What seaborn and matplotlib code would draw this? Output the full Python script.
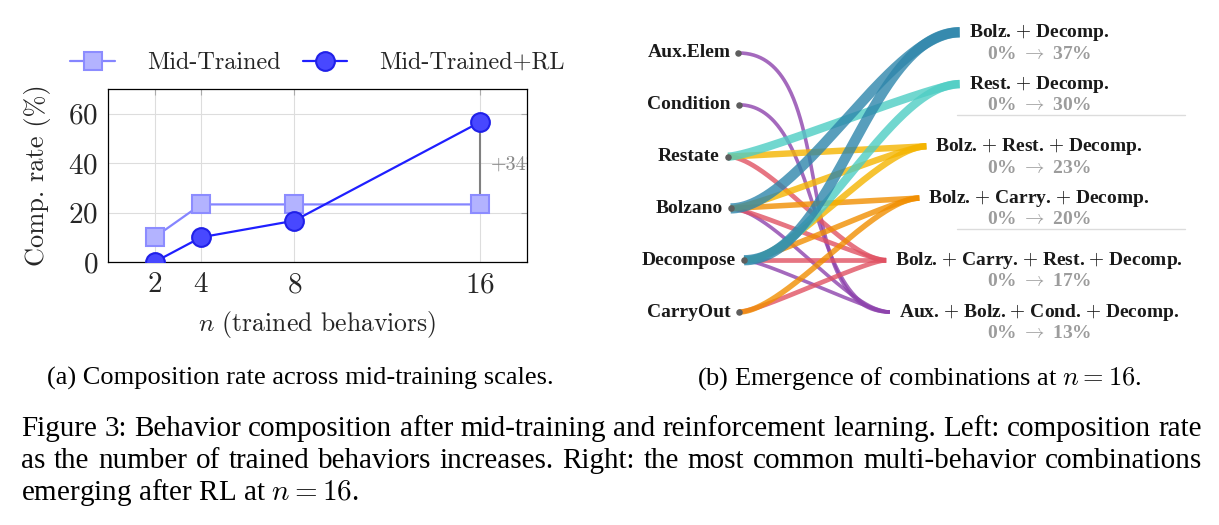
import numpy as np
import matplotlib
matplotlib.use("Agg")
import matplotlib.pyplot as plt
import seaborn as sns

sns.set_style("white")
plt.rcParams['font.family'] = ['cmr10']
plt.rcParams['mathtext.fontset'] = 'cm'
plt.rcParams['axes.formatter.use_mathtext'] = True
plt.rcParams['axes.unicode_minus'] = False


#######################################################################
### data
#######################################################################
# (a) composition rate vs number of trained behaviors
n_behaviors = [2, 4, 8, 16]
mid_trained = [10.0, 23.3, 23.3, 23.3]
mid_trained_rl = [0.0, 10.0, 16.7, 56.7]
gain_label = '+34%'

# (b) behaviors and the combinations that emerge after RL at n = 16
behaviors = ['Aux.Elem', 'Condition', 'Restate', 'Bolzano', 'Decompose', 'CarryOut']
combo_names = [['Bolz.', 'Decomp.'],
               ['Rest.', 'Decomp.'],
               ['Bolz.', 'Rest.', 'Decomp.'],
               ['Bolz.', 'Carry.', 'Decomp.'],
               ['Bolz.', 'Carry.', 'Rest.', 'Decomp.'],
               ['Aux.', 'Bolz.', 'Cond.', 'Decomp.']]
combo_members = [['Bolzano', 'Decompose'],
                 ['Restate', 'Decompose'],
                 ['Bolzano', 'Restate', 'Decompose'],
                 ['Bolzano', 'CarryOut', 'Decompose'],
                 ['Bolzano', 'CarryOut', 'Restate', 'Decompose'],
                 ['Aux.Elem', 'Bolzano', 'Condition', 'Decompose']]
combo_before = [0, 0, 0, 0, 0, 0]
combo_after = [37, 30, 23, 20, 17, 13]
combo_colors = ['#2E86AB', '#4ECDC4', '#F4B400', '#F18F01', '#E05263', '#8E44AD']

caption_a = '(a) Composition rate across mid-training scales.'
caption_b = r'(b) Emergence of combinations at $n = 16$.'
caption_lines = ['Figure 3: Behavior composition after mid-training and reinforcement learning. Left: composition rate',
                 'as the number of trained behaviors increases. Right: the most common multi-behavior combinations',
                 r'emerging after RL at $n = 16$.']

W, H = 1219, 525
fig = plt.figure(figsize=(W / 100, H / 100), dpi=100)
renderer = fig.canvas.get_renderer()


#######################################################################
### (a) line chart
#######################################################################
ax = fig.add_axes([108 / W, 1 - 262 / H, (527 - 108) / W, (262 - 89) / H])
sns.lineplot(x=n_behaviors, y=mid_trained, ax=ax, color='#8585ff', lw=1.6,
             marker='s', markersize=13, markerfacecolor='#b3b3ff',
             markeredgecolor='#8c8cff', markeredgewidth=1.5, label='Mid-Trained', zorder=3)
sns.lineplot(x=n_behaviors, y=mid_trained_rl, ax=ax, color='#1f1fff', lw=1.6,
             marker='o', markersize=13.5, markerfacecolor='#4848ff',
             markeredgecolor='#2020e8', markeredgewidth=1.5, label='Mid-Trained+RL', zorder=4)
ax.plot([n_behaviors[-1]] * 2, [mid_trained[-1], mid_trained_rl[-1]],
        color='#808080', lw=1.5, zorder=2)
ax.text(n_behaviors[-1] + 0.45, 39, gain_label, color='#888888', fontsize=14.5,
        va='center', ha='left', clip_on=True)

ax.set_xlim(0, 18)
ax.set_ylim(0, 70)
ax.set_xticks(n_behaviors)
ax.set_yticks([0, 20, 40, 60])
ax.grid(True, color='#dddddd', lw=0.8)
for s in ax.spines.values():
  s.set_color('black')
  s.set_linewidth(0.9)
ax.tick_params(direction='in', length=4, width=0.8, color='#aaaaaa',
               top=True, right=True, labelsize=21, pad=7)
ax.set_ylabel('Comp. rate (%)', fontsize=19)
ax.yaxis.set_label_coords(-0.137, 0.5)
ax.set_xlabel(r'$n$ (trained behaviors)', fontsize=18.5)
ax.xaxis.set_label_coords(0.5, -0.27)
ax.legend(loc='lower center', bbox_to_anchor=(0.5, 1.03), ncol=2, frameon=False,
          fontsize=17.5, handlelength=1.85, handletextpad=1.3, columnspacing=0.9,
          borderaxespad=0)


#######################################################################
### (b) behavior -> combination flows
#######################################################################
ax2 = fig.add_axes([620 / W, 1 - 340 / H, 599 / W, 330 / H])
ax2.set_xlim(-0.197, 1.514)
ax2.set_ylim(5.54, -0.83)
ax2.axis('off')

lab_kw = dict(family='Liberation Serif', weight='bold', fontsize=14, color='#1a1a1a')
row = {b: i for i, b in enumerate(behaviors)}
to_data = ax2.transData.inverted()
px_x = ax2.transData.transform((1, 0))[0] - ax2.transData.transform((0, 0))[0]
px_y = abs(ax2.transData.transform((0, 1))[1] - ax2.transData.transform((0, 0))[1])

# left nodes: label centred, dot just right of the text
start_x = {}
for b, i in row.items():
  t = ax2.text(0, i, b, ha='center', va='center', **lab_kw)
  bb = t.get_window_extent(renderer)
  yd = ax2.transData.transform((0, i))[1]
  start_x[b] = to_data.transform((bb.x1 + 8, yd))[0]

# right nodes: stacked bottom-up, wider gap between groups of equal size
sizes = [len(m) for m in combo_members]
right_y = [0.0] * len(sizes)
y = len(behaviors) - 1
for k in range(len(sizes) - 1, -1, -1):
  if k < len(sizes) - 1:
    y -= 1.0 if sizes[k] == sizes[k + 1] else 1.2
  right_y[k] = y

end_x = []
for k, parts in enumerate(combo_names):
  t = ax2.text(1, right_y[k], r' $+$ '.join(parts), ha='center', va='center', **lab_kw)
  bb = t.get_window_extent(renderer)
  yd = ax2.transData.transform((1, right_y[k]))[1]
  end_x.append(to_data.transform((bb.x0 - 9, yd))[0])
  ax2.text(1, right_y[k] + 0.42,
           r'%d%% $\rightarrow$ %d%%' % (combo_before[k], combo_after[k]),
           ha='center', va='center', family='Liberation Serif', weight='bold',
           fontsize=14, color='#9c9c9c')

# separators between 2-, 3- and 4-behavior groups
for k in range(len(sizes) - 1):
  if sizes[k] != sizes[k + 1]:
    ym = (right_y[k] + right_y[k + 1]) / 2
    ax2.plot([0.766, 1.417], [ym, ym], color='#dcdcdc', lw=1)

# bezier links, horizontal handle grows with the vertical drop
tt = np.linspace(0, 1, 150)
for k in range(len(combo_names) - 1, -1, -1):
  for b in combo_members[k]:
    x0, y0 = start_x[b], row[b]
    x1, y1 = end_x[k], right_y[k]
    handle = min(0.4 * abs(y1 - y0) * px_y / px_x, 0.85 * (x1 - x0))
    bx = ((1 - tt) ** 3 * x0 + 3 * (1 - tt) ** 2 * tt * (x0 + handle)
          + 3 * (1 - tt) * tt ** 2 * (x1 - handle) + tt ** 3 * x1)
    by = ((1 - tt) ** 3 * y0 + 3 * (1 - tt) ** 2 * tt * y0
          + 3 * (1 - tt) * tt ** 2 * y1 + tt ** 3 * y1)
    ax2.plot(bx, by, color=combo_colors[k], lw=0.2 * combo_after[k],
             alpha=0.8, solid_capstyle='butt', zorder=2)

ax2.scatter([start_x[b] for b in behaviors], [row[b] for b in behaviors],
            s=22, color='#5e5e5e', zorder=5, linewidths=0)


#######################################################################
### captions
#######################################################################
cap_kw = dict(family='Liberation Serif', color='black')
fig.text(300 / W, 1 - 385 / H, caption_a, ha='center', va='baseline', fontsize=19, **cap_kw)
fig.text(919 / W, 1 - 385 / H, caption_b, ha='center', va='baseline', fontsize=19, **cap_kw)


def justified_line(words, x0, x1, ybase, size):
  texts = [fig.text(0, ybase, w, va='baseline', ha='left', fontsize=size, **cap_kw) for w in words]
  widths = [t.get_window_extent(renderer).width for t in texts]
  gap = (x1 - x0 - sum(widths)) / (len(words) - 1)
  x = x0
  for t, w in zip(texts, widths):
    t.set_x(x / W)
    x += w + gap


cap_size = 21
for i, line in enumerate(caption_lines):
  yb = 1 - (436 + 32 * i) / H
  if i < len(caption_lines) - 1:
    justified_line(line.split(' '), 21, 1202, yb, cap_size)
  else:
    fig.text(21 / W, yb, line, va='baseline', ha='left', fontsize=cap_size, **cap_kw)

fig.savefig('out.png', dpi=100)
